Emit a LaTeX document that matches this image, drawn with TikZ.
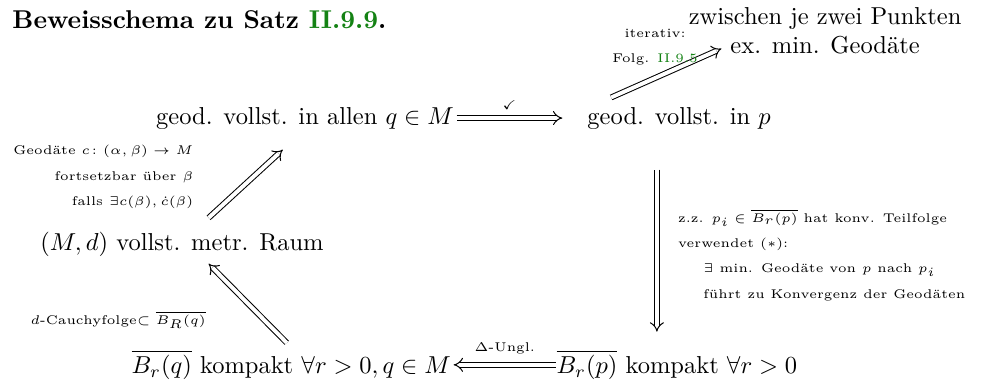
\documentclass[tikz,border=0pt]{standalone}
\usepackage{amsmath,amssymb}
\usetikzlibrary{arrows.meta}
\definecolor{refgreen}{RGB}{20,130,20}

\begin{document}
\begin{tikzpicture}[st/.style={scale=1.57,inner sep=1pt},lab/.style={scale=1.62,font=\tiny,inner sep=1pt},imp/.style={double,line width=0.65pt,double distance=2.5pt,-{Implies}}]
\useasboundingbox (0,0) rectangle (22.35,-8.67);
\node[anchor=base west,font=\bfseries,scale=1.65,inner sep=0pt] (titel) at (0.27,-0.64) {Beweisschema zu Satz \textcolor{refgreen}{II.9.9}.};
% obere Zeile
\node[st,align=center] (mingeo) at (18.59,-0.70) {zwischen je zwei Punkten\\ex. min. Geod\"ate};
\node[st] (allen) at (6.87,-2.66) {geod. vollst. in allen $q\in M$};
\node[st] (inp) at (15.30,-2.66) {geod. vollst. in $p$};
% mitte
\node[st] (metr) at (4.10,-5.50) {$(M,d)$ vollst. metr. Raum};
% untere Zeile
\node[st] (kompq) at (6.56,-8.22) {$\overline{B_r(q)}$ kompakt $\forall r>0, q\in M$};
\node[st] (kompp) at (15.25,-8.22) {$\overline{B_r(p)}$ kompakt $\forall r>0$};
% Pfeile
\draw[imp] (allen.east) -- ([xshift=-0.5cm]inp.west) node[lab,midway,above=2pt] {$\checkmark$};
\draw[imp] ([xshift=0.6cm,yshift=0.15cm]inp.north west) -- ([xshift=0.8cm,yshift=0.2cm]mingeo.south west);
\draw[imp] ([xshift=-0.5cm,yshift=-0.85cm]inp.south) -- ([xshift=-0.5cm,yshift=0.35cm]inp.south |- kompp.north);
\draw[imp] ([xshift=0.05cm]kompp.west) -- (kompq.east) node[lab,midway,above=3pt] {$\Delta$-Ungl.};
\draw[imp] ([xshift=-0.1cm,yshift=0.1cm]kompq.north) -- ([xshift=0.6cm,yshift=-0.1cm]metr.south);
\draw[imp] ([xshift=0.6cm,yshift=0.25cm]metr.north) -- ([xshift=-0.5cm,yshift=-0.4cm]allen.south);
% Beschriftungen
\node[lab,align=center] (iter) at (14.76,-1.06) {iterativ:\\[4pt] Folg. \textcolor{refgreen}{II.9.5}};
\node[lab,align=right,anchor=east] (fortsetz) at (4.42,-3.99) {Geod\"ate $c\colon(\alpha,\beta)\to M$\\[4pt] fortsetzbar \"uber $\beta$\\[4pt] falls $\exists c(\beta),\dot c(\beta)$};
\node[lab,align=left,anchor=west] (zz) at (15.21,-5.75) {z.z. $p_i\in\overline{B_r(p)}$ hat konv. Teilfolge\\[4pt] verwendet $(*)$:\\[4pt] \qquad$\exists$ min. Geod\"ate von $p$ nach $p_i$\\[4pt] \qquad f\"uhrt zu Konvergenz der Geod\"aten};
\node[lab] (cauchy) at (2.66,-7.21) {$d$-Cauchyfolge$\subset\overline{B_R(q)}$};
\end{tikzpicture}
\end{document}
